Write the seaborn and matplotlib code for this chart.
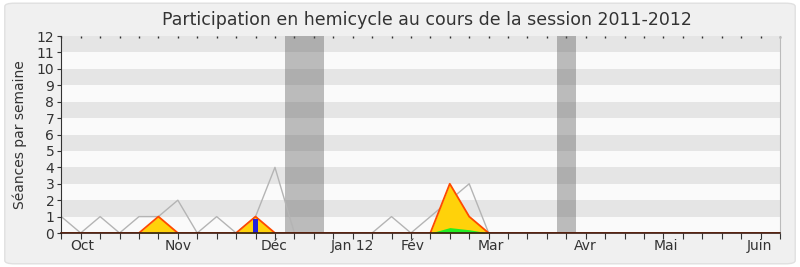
import numpy as np
import pandas as pd
import matplotlib
matplotlib.use("Agg")
import matplotlib.pyplot as plt
from matplotlib.patches import FancyBboxPatch
import seaborn as sns

# Weekly series for the 2011-2012 session (week index from the start of October)
weeks = list(range(38))
seances_hemicycle = [1, 0, 1, 0, 1, 1, 2, 0, 1, 0, 1, 4, 0, 0, 0, 0, 0, 1, 0, 1,
                     2, 3, 0, 0, 0, 0, 0, 0, 0, 0, 0, 0, 0, 0, 0, 0, 0, 0]
presences = [0, 0, 0, 0, 0, 1, 0, 0, 0, 0, 1, 0, 0, 0, 0, 0, 0, 0, 0, 0,
             3, 1, 0, 0, 0, 0, 0, 0, 0, 0, 0, 0, 0, 0, 0, 0, 0, 0]
interventions = [0, 0, 0, 0, 0, 0.05, 0, 0, 0, 0, 0.05, 0, 0, 0, 0, 0, 0, 0, 0, 0,
                 0.33, 0.2, 0, 0, 0, 0, 0, 0, 0, 0, 0, 0, 0, 0, 0, 0, 0, 0]
questions_week = [10]
questions_val = [0.85]

# Parliamentary breaks (week ranges)
vacances = [(11.5, 13.5), (25.5, 26.5)]

month_labels = ["Oct", "Nov", "Déc", "Jan 12", "Fév", "Mar", "Avr", "Mai", "Juin"]
month_pos = [1.08, 6.0, 10.96, 14.97, 18.1, 22.1, 27.0, 31.15, 35.96]

df = pd.DataFrame({
    "semaine": weeks,
    "hemicycle": seances_hemicycle,
    "presences": presences,
    "interventions": interventions,
})

plt.rcParams["font.family"] = ["DejaVu Sans"]

fig = plt.figure(figsize=(8, 2.67), dpi=100, facecolor="white")
panel = FancyBboxPatch((0.006, 0.012), 0.988, 0.976,
                       boxstyle="round,pad=0,rounding_size=0.012",
                       transform=fig.transFigure, facecolor="#f0f0f0",
                       edgecolor="#e0e0e0", linewidth=1.0, zorder=-10)
fig.patches.append(panel)

ax = fig.add_axes([0.0766, 0.1273, 0.8984, 0.7377])
ax.set_facecolor("#fafafa")

# Alternating horizontal bands
for lo in range(1, 12, 2):
    ax.axhspan(lo, lo + 1, color="#e5e5e5", lw=0, zorder=0)

for a, b in vacances:
    ax.axvspan(a, b, color="#555555", alpha=0.38, lw=0, zorder=1)

sns.lineplot(data=df, x="semaine", y="hemicycle", ax=ax, color="#b4b4b4",
             lw=1.0, zorder=2, legend=False)
ax.fill_between(df["semaine"], 0, df["presences"], color="#ffd20a", lw=0, zorder=3)
ax.fill_between(df["semaine"], 0, df["interventions"], color="#22ee22", lw=0, zorder=4)
sns.lineplot(data=df, x="semaine", y="presences", ax=ax, color="#ff4a00",
             lw=1.3, zorder=5, legend=False)
ax.bar(questions_week, questions_val, width=0.3, color="#2222dd", zorder=6)

ax.set_xlim(0, 37)
ax.set_ylim(0, 12)
ax.set_xlabel("")
ax.set_ylabel("Séances par semaine", fontsize=10, color="#333333", labelpad=7)

ax.set_yticks(range(13))
ax.set_yticklabels([str(i) for i in range(13)], fontsize=10, color="#333333")
ax.tick_params(axis="y", length=3, width=0.8, color="#333333", pad=2)

ax.xaxis.remove_overlapping_locs = False
ax.set_xticks(weeks)
ax.set_xticklabels([])
ax.tick_params(axis="x", which="major", length=4, width=0.8, color="#333333")
ax.set_xticks(month_pos, minor=True)
ax.set_xticklabels(month_labels, minor=True, fontsize=10, color="#333333")
ax.tick_params(axis="x", which="minor", length=0, pad=4)

top = ax.secondary_xaxis("top")
top.set_xticks(weeks)
top.set_xticklabels([])
top.tick_params(length=1.2, width=1.0, color="#333333", direction="in")
top.spines["top"].set_visible(False)

ax.spines["top"].set_visible(False)
ax.spines["right"].set_color("#bbbbbb")
ax.spines["right"].set_linewidth(0.8)
ax.spines["left"].set_color("#333333")
ax.spines["left"].set_linewidth(0.8)
ax.spines["bottom"].set_color("#3a1a10")
ax.spines["bottom"].set_linewidth(1.2)
ax.spines["bottom"].set_zorder(7)

fig.text(0.534, 0.925, "Participation en hemicycle au cours de la session 2011-2012",
         ha="center", va="center", fontsize=12.5, color="#333333")

fig.savefig("out.png", dpi=100, facecolor=fig.get_facecolor())
